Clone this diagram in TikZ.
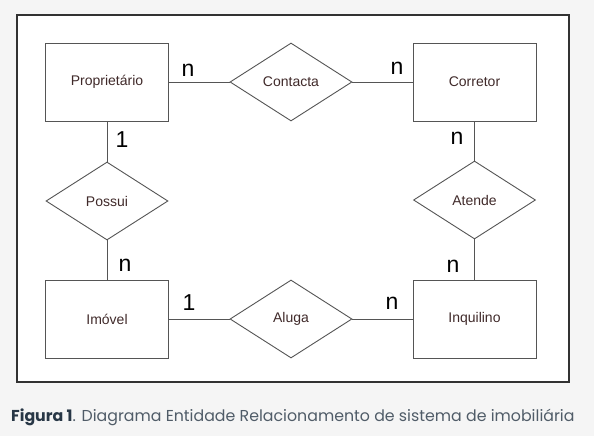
\documentclass[tikz,border=0pt]{standalone}
\usepackage{fontspec}
\setmainfont{Liberation Sans}
\newfontfamily\capfont{Poppins}
\usetikzlibrary{shapes.geometric}

\definecolor{pagegray}{RGB}{245,245,245}
\definecolor{framegray}{RGB}{50,50,50}
\definecolor{linegray}{RGB}{85,85,85}
\definecolor{textbrown}{RGB}{64,42,42}
\definecolor{capdark}{RGB}{40,55,70}
\definecolor{capgray}{RGB}{80,92,104}

\begin{document}
\begin{tikzpicture}[x=1pt, y=-1pt,
  entity/.style={rectangle, draw=linegray, line width=0.9pt, fill=white,
    minimum width=123pt, minimum height=78pt, inner sep=0pt,
    text=textbrown, font=\fontsize{14}{16}\selectfont},
  relation/.style={diamond, draw=linegray, line width=0.9pt, fill=white,
    minimum width=122pt, minimum height=78pt, inner sep=0pt,
    text=textbrown, font=\fontsize{14}{16}\selectfont},
  link/.style={draw=linegray, line width=0.9pt},
  card/.style={inner sep=0pt, text=black, font=\fontsize{23}{25}\selectfont}
]

% page and frame
\fill[pagegray] (0,0) rectangle (594,436);
\useasboundingbox (0,0) rectangle (594,436);
\draw[framegray, fill=white, line width=1.3pt] (17,15) rectangle (569,382);

% entities
\node[entity] (prop) at (107,82) {Proprietário};
\node[entity] (corr) at (474.5,82) {Corretor};
\node[entity] (imov) at (107,319) {Imóvel};
\node[entity] (inq) at (474.5,319) {Inquilino};

% relationships
\node[relation] (contacta) at (291,82) {Contacta};
\node[relation] (possui) at (107,201) {Possui};
\node[relation] (atende) at (474.5,200) {Atende};
\node[relation] (aluga) at (291,319) {Aluga};

\draw[link] (prop.east) -- (contacta.west);
\draw[link] (contacta.east) -- (corr.west);
\draw[link] (prop.south) -- (possui.north);
\draw[link] (possui.south) -- (imov.north);
\draw[link] (corr.south) -- (atende.north);
\draw[link] (atende.south) -- (inq.north);
\draw[link] (imov.east) -- (aluga.west);
\draw[link] (aluga.east) -- (inq.west);

% cardinalities
\node[card] (c1) at (188,70) {n};
\node[card] (c2) at (397,68) {n};
\node[card] (c3) at (122,140) {1};
\node[card] (c4) at (457,138) {n};
\node[card] (c5) at (125,265) {n};
\node[card] (c6) at (453,266) {n};
\node[card] (c7) at (189,303) {1};
\node[card] (c8) at (392,303) {n};

% caption
\node[anchor=base west, inner sep=0pt, font=\capfont\fontsize{15.8}{18}\selectfont]
  (caption) at (11,421)
  {\textcolor{capdark}{\bfseries Figura 1}\textcolor{capgray}{. Diagrama Entidade Relacionamento de sistema de imobiliária}};

\end{tikzpicture}
\end{document}
